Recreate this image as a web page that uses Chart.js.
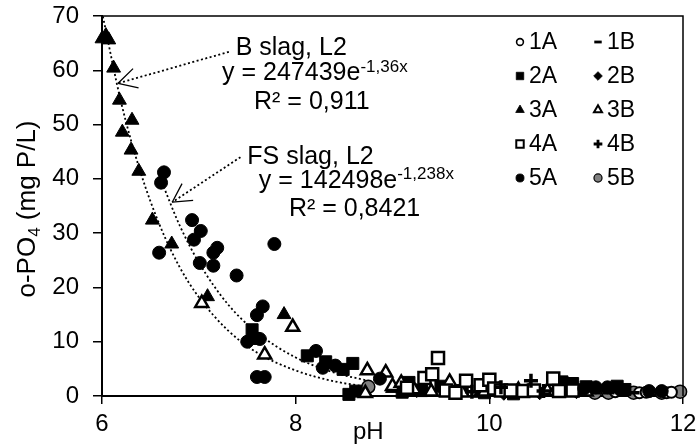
<!DOCTYPE html>
<html>
<head>
<meta charset="utf-8">
<script src="https://cdn.jsdelivr.net/npm/chart.js@4.4.1/dist/chart.umd.min.js"></script>
<style>
  html, body { margin: 0; padding: 0; background: #fff; }
  #wrap { width: 698px; height: 444px; }
</style>
</head>
<body>
<div id="wrap"><canvas id="grafico" width="698" height="444"></canvas></div>
<script>
// Datos: pH (x) y o-PO4 en mg P/L (y) por serie
const ph1A = [10.9, 11.3, 11.55, 11.62, 11.83, 11.88];
const po1A = [0.9, 0.8, 0.6, 0.7, 0.6, 0.7];
const ph1B = [11.09, 11.23, 11.49, 11.78];
const po1B = [0.6, 0.6, 0.6, 0.6];
const ph2A = [7.55, 7.57, 8.12, 8.31, 8.49, 8.59, 8.55, 8.62, 9.1, 9.17, 9.3, 9.5, 9.72, 9.95, 10.25, 10.75, 10.86, 11.0, 11.32, 11.4];
const po2A = [12.2, 10.6, 7.4, 6.3, 4.9, 6.0, 0.3, 0.9, 0.7, 2.5, 1.0, 1.8, 1.0, 0.6, 0.4, 2.6, 2.3, 1.7, 1.8, 1.2];
const ph2B = [9.25, 9.62, 10.15, 10.52, 10.9];
const po2B = [1.0, 0.7, 0.5, 0.6, 0.8];
const ph3A = [6.0, 6.04, 6.07, 6.12, 6.18, 6.21, 6.30, 6.31, 6.38, 6.52, 6.72, 7.09, 7.88, 9.0, 9.28, 9.62, 9.9];
const po3A = [65.8, 66.4, 65.6, 60.4, 54.5, 48.6, 45.3, 50.8, 41.4, 32.4, 28.0, 18.3, 15.0, 1.4, 0.8, 1.2, 0.5];
const ph3B = [7.03, 7.68, 7.97, 8.72, 8.74, 8.93, 9.0, 9.09, 9.22, 9.4, 9.59, 9.72, 9.95, 10.1, 10.3, 10.42, 10.6, 10.68, 10.88, 11.0];
const po3B = [17.1, 7.6, 12.7, 0.5, 4.7, 4.3, 1.8, 2.4, 1.2, 0.8, 2.6, 0.6, 0.8, 1.0, 1.1, 1.0, 1.0, 0.9, 0.8, 0.8];
const ph4A = [9.15, 9.33, 9.41, 9.47, 9.55, 9.65, 9.76, 9.91, 10.0, 10.05, 10.12, 10.22, 10.35, 10.46, 10.66, 10.72, 10.86];
const po4A = [1.5, 3.3, 4.0, 7.0, 1.0, 0.6, 2.8, 2.0, 3.0, 1.4, 1.0, 1.0, 0.9, 1.0, 3.2, 0.9, 1.0];
const ph4B = [9.82, 10.12, 10.43, 10.56];
const po4B = [0.8, 1.6, 2.8, 0.9];
const ph5A = [6.64, 6.61, 6.59, 6.93, 7.02, 6.95, 7.19, 7.15, 7.01, 7.15, 7.39, 7.78, 7.66, 7.60, 7.50, 7.63, 7.60, 7.68, 8.21, 8.28, 8.41, 8.87, 10.98, 11.1, 11.22, 11.35, 11.65, 11.78];
const po5A = [41.2, 39.3, 26.4, 32.4, 30.4, 28.8, 27.3, 26.4, 24.5, 24.0, 22.2, 28.0, 16.5, 14.9, 10.0, 10.5, 3.5, 3.5, 8.3, 5.2, 5.6, 3.2, 1.4, 1.6, 1.6, 1.2, 0.9, 0.9];
const ph5B = [8.75, 11.09, 11.23, 11.49, 11.78, 11.97];
const po5B = [1.7, 0.6, 0.6, 0.6, 0.6, 0.8];

// Líneas de tendencia (puntos leídos sobre las curvas punteadas)
const curvaB_ph = [6.0, 6.2, 6.4, 6.6, 6.8, 7.0, 7.3, 7.6, 8.0, 8.4, 8.7];
const curvaB_po = [70.7, 53.9, 41.1, 31.3, 23.8, 18.2, 12.1, 8.0, 4.7, 2.7, 1.8];
const curvaFS_ph = [6.62, 6.8, 7.0, 7.3, 7.6, 8.0, 8.4, 8.75];
const curvaFS_po = [39.3, 31.5, 24.6, 16.9, 11.7, 7.1, 4.3, 2.8];

const xTicks = [6, 8, 10, 12];
const yTicks = [0, 10, 20, 30, 40, 50, 60, 70];

const fuente = "'Liberation Sans', Arial, sans-serif";

function puntos(xs, ys) {
  return xs.map((v, i) => ({ x: v, y: ys[i] }));
}

// Estilo de cada serie (orden = orden de la leyenda)
const series = [
  { label: '1A', xs: ph1A, ys: po1A, estilo: 'circle', r: 5.5, fondo: '#fff', borde: '#000', bw: 2 },
  { label: '1B', xs: ph1B, ys: po1B, estilo: 'line', r: 6, fondo: '#000', borde: '#000', bw: 3.5 },
  { label: '2A', xs: ph2A, ys: po2A, estilo: 'rect', r: 8.5, fondo: '#000', borde: '#000', bw: 1 },
  { label: '2B', xs: ph2B, ys: po2B, estilo: 'rectRot', r: 7, fondo: '#000', borde: '#000', bw: 1 },
  { label: '3A', xs: ph3A, ys: po3A, estilo: 'triangle', r: 8, fondo: '#000', borde: '#000', bw: 1 },
  { label: '3B', xs: ph3B, ys: po3B, estilo: 'triangle', r: 7.5, fondo: '#fff', borde: '#000', bw: 2.5 },
  { label: '4A', xs: ph4A, ys: po4A, estilo: 'rect', r: 8.5, fondo: '#fff', borde: '#000', bw: 2.5 },
  { label: '4B', xs: ph4B, ys: po4B, estilo: 'cross', r: 7, fondo: '#000', borde: '#000', bw: 3.5 },
  { label: '5A', xs: ph5A, ys: po5A, estilo: 'circle', r: 6.5, fondo: '#000', borde: '#000', bw: 1 },
  { label: '5B', xs: ph5B, ys: po5B, estilo: 'circle', r: 6.5, fondo: '#808080', borde: '#000', bw: 1.5 }
];

const datasets = series.map((s, i) => ({
  type: 'scatter',
  label: s.label,
  data: puntos(s.xs, s.ys),
  pointStyle: s.estilo,
  pointRadius: s.r,
  pointBackgroundColor: s.fondo,
  pointBorderColor: s.borde,
  pointBorderWidth: s.bw,
  clip: false,
  order: s.label === '5B' ? 20 : 10 - i
}));

function curva(xs, ys) {
  return {
    type: 'line',
    label: '',
    data: puntos(xs, ys),
    borderColor: '#000',
    borderWidth: 1.8,
    borderDash: [2, 2.5],
    pointRadius: 0,
    fill: false,
    cubicInterpolationMode: 'monotone',
    order: 30
  };
}
datasets.push(curva(curvaB_ph, curvaB_po));
datasets.push(curva(curvaFS_ph, curvaFS_po));

// Textos de las ecuaciones, anclados en coordenadas de datos (borde izquierdo, centro vertical)
const anotaciones = [
  { x: 7.38, y: 64.1, base: 'B slag, L2', exp: '' },
  { x: 7.24, y: 59.4, base: 'y = 247439e', exp: '-1,36x' },
  { x: 7.57, y: 54.1, base: 'R\u00b2 = 0,911', exp: '' },
  { x: 7.50, y: 44.0, base: 'FS slag, L2', exp: '' },
  { x: 7.62, y: 39.6, base: 'y = 142498e', exp: '-1,238x' },
  { x: 7.93, y: 34.5, base: 'R\u00b2 = 0,8421', exp: '' }
];
// Flechas: cola -> punta
const flechas = [
  { x0: 7.31, y0: 63.4, x1: 6.166, y1: 57.6 },
  { x0: 7.43, y0: 44.0, x1: 6.725, y1: 35.7 }
];

function escribir(ctx, base, exp, x, y, size) {
  ctx.font = size + 'px ' + fuente;
  ctx.textAlign = 'left';
  ctx.textBaseline = 'middle';
  ctx.fillText(base, x, y);
  if (exp) {
    const w = ctx.measureText(base).width;
    ctx.font = Math.round(size * 0.66) + 'px ' + fuente;
    ctx.fillText(exp, x + w, y - size * 0.26);
  }
}

const plugDibujo = {
  id: 'dibujo',
  afterDatasetsDraw(chart) {
    const { ctx, chartArea: ca, scales } = chart;
    const sx = scales.x, sy = scales.y;
    ctx.save();
    ctx.fillStyle = '#000';
    ctx.strokeStyle = '#000';

    // marco superior y derecho
    ctx.lineWidth = 1.5;
    ctx.beginPath();
    ctx.moveTo(ca.left, ca.top);
    ctx.lineTo(ca.right, ca.top);
    ctx.lineTo(ca.right, ca.bottom);
    ctx.stroke();

    // flechas punteadas con punta abierta
    flechas.forEach(f => {
      const ax = sx.getPixelForValue(f.x0), ay = sy.getPixelForValue(f.y0);
      const bx = sx.getPixelForValue(f.x1), by = sy.getPixelForValue(f.y1);
      ctx.lineWidth = 1.8;
      ctx.setLineDash([2, 2.5]);
      ctx.beginPath();
      ctx.moveTo(ax, ay);
      ctx.lineTo(bx, by);
      ctx.stroke();
      ctx.setLineDash([]);
      const ang = Math.atan2(ay - by, ax - bx);
      ctx.lineWidth = 1.3;
      ctx.beginPath();
      [0.5, -0.5].forEach(d => {
        ctx.moveTo(bx, by);
        ctx.lineTo(bx + 21 * Math.cos(ang + d), by + 21 * Math.sin(ang + d));
      });
      ctx.stroke();
    });

    // ecuaciones
    anotaciones.forEach(a => {
      escribir(ctx, a.base, a.exp, sx.getPixelForValue(a.x), sy.getPixelForValue(a.y), 25);
    });

    // leyenda en dos columnas dentro del área
    const helpers = Chart.helpers;
    series.forEach((s, i) => {
      const col = i % 2, fila = Math.floor(i / 2);
      const mx = ca.right - 163 + col * 78;
      const my = ca.top + 26 + fila * 34;
      ctx.fillStyle = s.fondo;
      ctx.strokeStyle = s.borde;
      ctx.lineWidth = s.bw * 0.8;
      helpers.drawPoint(ctx, { pointStyle: s.estilo, radius: s.r * 0.62, rotation: 0, borderWidth: s.bw * 0.8 }, mx, my);
      ctx.fillStyle = '#000';
      ctx.font = '23px ' + fuente;
      ctx.textAlign = 'left';
      ctx.textBaseline = 'middle';
      ctx.fillText(s.label, mx + 9, my + 1);
    });

    // títulos de los ejes
    ctx.fillStyle = '#000';
    ctx.font = '24px ' + fuente;
    ctx.textAlign = 'center';
    ctx.textBaseline = 'middle';
    ctx.fillText('pH', sx.getPixelForValue(8.75), ca.bottom + 36);

    ctx.translate(28, (ca.top + ca.bottom) / 2 + 3);
    ctx.rotate(-Math.PI / 2);
    const t1 = 'o-PO', t2 = '4', t3 = ' (mg P/L)';
    ctx.font = '26px ' + fuente;
    const w1 = ctx.measureText(t1).width, w3 = ctx.measureText(t3).width;
    ctx.font = '17px ' + fuente;
    const w2 = ctx.measureText(t2).width;
    let px = -(w1 + w2 + w3) / 2;
    ctx.textAlign = 'left';
    ctx.font = '26px ' + fuente;
    ctx.fillText(t1, px, 0);
    ctx.font = '17px ' + fuente;
    ctx.fillText(t2, px + w1, 7);
    ctx.font = '26px ' + fuente;
    ctx.fillText(t3, px + w1 + w2, 0);
    ctx.restore();
  }
};

Chart.defaults.font.family = fuente;
Chart.defaults.color = '#000';

const ctx = document.getElementById('grafico').getContext('2d');
new Chart(ctx, {
  type: 'scatter',
  data: { datasets: datasets },
  plugins: [plugDibujo],
  options: {
    responsive: false,
    animation: false,
    devicePixelRatio: 1,
    layout: { padding: { top: 16, right: 15, left: 0, bottom: 0 } },
    plugins: { legend: { display: false }, tooltip: { enabled: false } },
    scales: {
      x: {
        type: 'linear',
        min: 6, max: 12,
        afterBuildTicks: s => { s.ticks = xTicks.map(v => ({ value: v })); },
        ticks: { padding: 6, color: '#000', font: { size: 24 } },
        grid: { drawOnChartArea: false, tickLength: 8, color: '#000', lineWidth: 1.5 },
        border: { color: '#000', width: 2 },
        afterFit: s => { s.height = 48; s.paddingLeft = 0; s.paddingRight = 0; }
      },
      y: {
        type: 'linear',
        min: 0, max: 70,
        afterBuildTicks: s => { s.ticks = yTicks.map(v => ({ value: v })); },
        ticks: { padding: 14, color: '#000', font: { size: 24 } },
        grid: { drawOnChartArea: false, tickLength: 9, color: '#000', lineWidth: 1.5 },
        border: { color: '#000', width: 2 },
        afterFit: s => { s.width = 102; s.paddingTop = 0; s.paddingBottom = 0; }
      }
    }
  }
});
</script>
</body>
</html>
